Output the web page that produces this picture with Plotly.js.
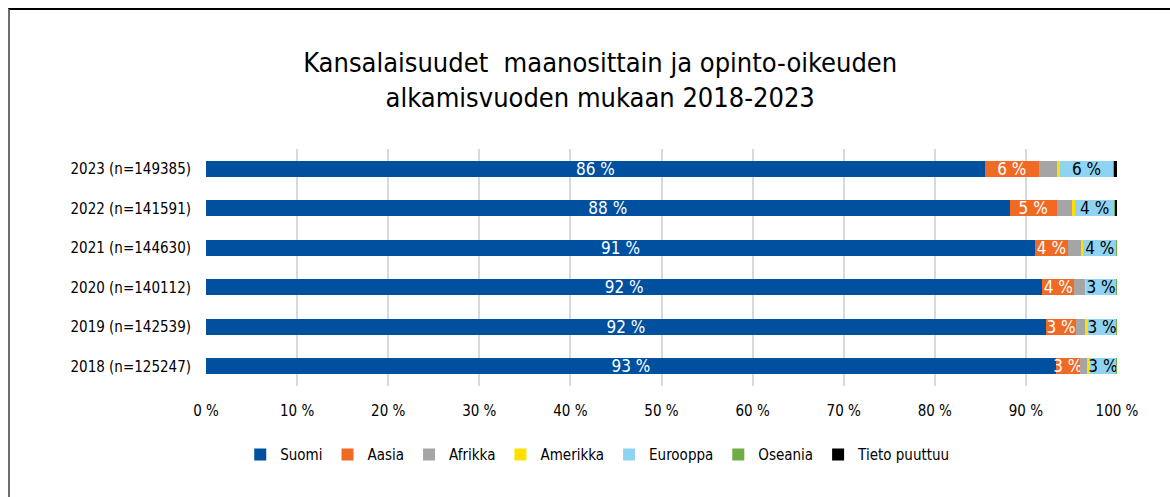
<!DOCTYPE html>
<html><head><meta charset="utf-8">
<script src="https://cdn.plot.ly/plotly-3.0.1.min.js"></script>
<style>
html,body{margin:0;padding:0;background:#fff;}
#frame{position:absolute;left:8px;top:8px;width:1170px;height:500px;border-top:2px solid #000;border-left:2px solid #6e6e6e;}
#chart{position:absolute;left:0;top:0;width:1170px;height:497px;}
</style></head>
<body>
<div id="frame"></div>
<div id="chart"></div>
<script>
const categories = ["2018 (n=125247)","2019 (n=142539)","2020 (n=140112)","2021 (n=144630)","2022 (n=141591)","2023 (n=149385)"];
const seriesNames = ["Suomi","Aasia","Afrikka","Amerikka","Eurooppa","Oseania","Tieto puuttuu"];
const suomi    = [93.3, 92.2, 91.8, 91.0, 88.2, 85.5];
const aasia    = [2.6, 3.3, 3.5, 3.6, 5.2, 5.9];
const afrikka  = [0.8, 1.0, 1.2, 1.4, 1.7, 2.0];
const amerikka = [0.3, 0.3, 0.1, 0.3, 0.3, 0.3];
const eurooppa = [2.9, 3.1, 3.3, 3.6, 4.3, 5.9];
const oseania  = [0.05, 0.05, 0.05, 0.05, 0.05, 0.05];
const tieto    = [0.05, 0.05, 0.05, 0.05, 0.25, 0.35];
const tickVals = [0,10,20,30,40,50,60,70,80,90,100];
const tickText = ["0 %","10 %","20 %","30 %","40 %","50 %","60 %","70 %","80 %","90 %","100 %"];
const colors = ["#0050a0","#f06a24","#a5a5a5","#ffe000","#8fd3f3","#70ad47","#000000"];
const labelled = [true,true,false,false,true,false,false];
const labelColors = ["#ffffff","#ffffff","#000","#000","#000000","#000","#000"];
const values = [suomi,aasia,afrikka,amerikka,eurooppa,oseania,tieto];

const FONT = "'DejaVu Sans Condensed','Liberation Sans Narrow',sans-serif";
const traces = seriesNames.map((name,i)=>{
  const t = {
    type:'bar', orientation:'h', name:name,
    y:categories, x:values[i],
    marker:{color:colors[i], line:{width:0}},
    hoverinfo:'x+name'
  };
  if(labelled[i]){
    t.text = values[i].map(v=>Math.round(v)+" %");
    t.textposition='inside';
    t.insidetextanchor='middle';
    t.textangle=0;
    t.constraintext='none';
    t.insidetextfont={color:labelColors[i], size:17, family:FONT};
  } else {
    t.textposition='none';
  }
  return t;
});

const layout = {
  width:1170, height:497,
  paper_bgcolor:'rgba(0,0,0,0)', plot_bgcolor:'rgba(0,0,0,0)',
  barmode:'stack', bargap:0.59,
  margin:{l:206, r:53, t:149, b:111},
  title:{text:"Kansalaisuudet  maanosittain ja opinto-oikeuden<br>alkamisvuoden mukaan 2018-2023",
         x:0.513, xanchor:'center', y:0.855, yanchor:'top',
         font:{family:FONT, size:27, color:'#000'}},
  xaxis:{range:[0,100], tickvals:tickVals, ticktext:tickText,
         showgrid:true, gridcolor:'#d9d9d9', gridwidth:2, zeroline:false,
         showline:false, ticks:'', fixedrange:true, ticklabelstandoff:14,
         tickfont:{family:FONT, size:15, color:'#000'}},
  yaxis:{type:'category', categoryorder:'array', categoryarray:categories,
         showgrid:false, zeroline:false, ticks:'', ticklen:0, ticklabelstandoff:14,
         tickfont:{family:FONT, size:15, color:'#000'}},
  legend:{orientation:'h', x:0.43, xanchor:'center', y:-0.22, yanchor:'top',
          font:{family:FONT, size:15, color:'#000'}, itemwidth:30, traceorder:'normal'},
  showlegend:true
};
Plotly.newPlot('chart', traces, layout, {displayModeBar:false, staticPlot:true});
</script>
</body></html>
